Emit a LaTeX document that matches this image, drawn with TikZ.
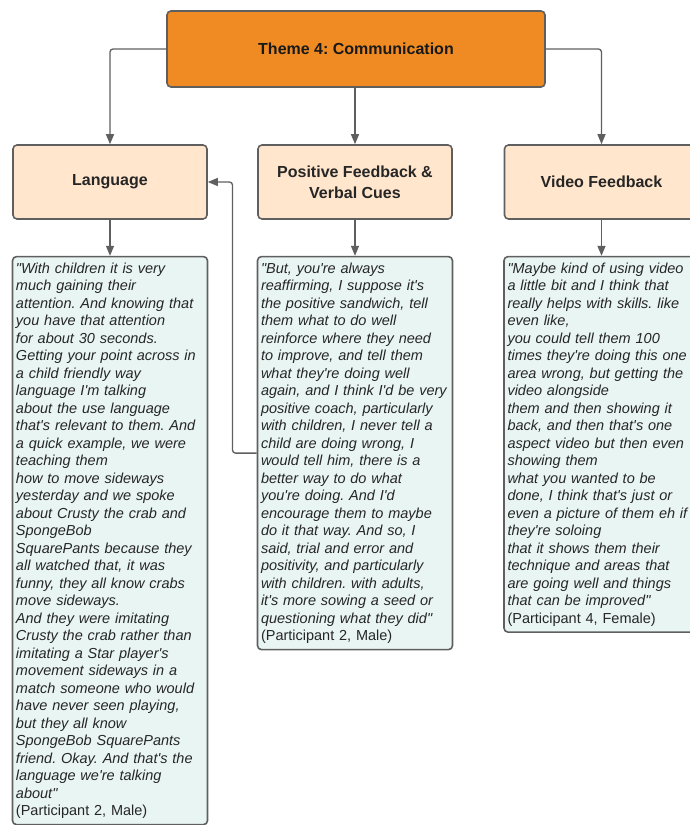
\documentclass[tikz,border=0pt]{standalone}
\usepackage{fontspec}
\setmainfont{Liberation Sans}
\newfontfamily\plainsans{Liberation Sans}
\usetikzlibrary{arrows.meta, calc, positioning}

\definecolor{themeorange}{HTML}{EF8B22}
\definecolor{headpeach}{HTML}{FFE6CC}
\definecolor{quotemint}{HTML}{E9F5F3}
\definecolor{edgegray}{HTML}{5F5F5F}

\begin{document}
\frenchspacing
\begin{tikzpicture}[x=1pt, y=-1pt,
  themebox/.style={draw=edgegray, line width=1.6pt, rounded corners=4pt, fill=themeorange,
    minimum width=378pt, minimum height=76pt, text=black!90,
    font=\fontsize{16}{20}\selectfont\bfseries},
  headbox/.style={draw=edgegray, line width=1.6pt, rounded corners=4pt, fill=headpeach,
    minimum width=194pt, minimum height=74pt, align=center, text=black!85,
    font=\fontsize{16}{21}\selectfont\bfseries},
  quotebox/.style={draw=edgegray, line width=1.6pt, rounded corners=4pt, fill=quotemint,
    text width=188pt, inner xsep=3.5pt, inner ysep=6pt, align=left, anchor=north,
    text=black!85, font=\plainsans\fontsize{14.5}{17.5}\selectfont\itshape},
  link/.style={draw=edgegray, line width=1.3pt, rounded corners=3pt,
    -{Triangle[length=10pt, width=8pt]}}
]

% Fix the page to the size of the picture
\useasboundingbox (0,0) rectangle (690,825);
\clip (0,0) rectangle (690,825);

% Theme box at the top
\node[themebox] (theme) at (356,49) {Theme 4: Communication};

% The three sub-theme boxes
\node[headbox] (lang) at (110,182) {Language};
\node[headbox] (pos) at (355,182) {Positive Feedback \&\\Verbal Cues};
\node[headbox] (video) at (601.5,182) {Video Feedback};

% Quotes below each sub-theme
\node[quotebox, below=36pt of lang] (langq) {"With children it is very\\
much gaining their\\
attention. And knowing that\\
you have that attention\\
for about 30 seconds.\\
Getting your point across in\\
a child friendly way\\
language I'm talking\\
about the use language\\
that's relevant to them. And\\
a quick example, we were\\
teaching them\\
how to move sideways\\
yesterday and we spoke\\
about Crusty the crab and\\
SpongeBob\\
SquarePants because they\\
all watched that, it was\\
funny, they all know crabs\\
move sideways.\\
And they were imitating\\
Crusty the crab rather than\\
imitating a Star player's\\
movement sideways in a\\
match someone who would\\
have never seen playing,\\
but they all know\\
SpongeBob SquarePants\\
friend. Okay. And that's the\\
language we're talking\\
about"\\
{\upshape (Participant 2, Male)}};

\node[quotebox, below=36pt of pos] (posq) {"But, you're always\\
reaffirming, I suppose it's\\
the positive sandwich, tell\\
them what to do well\\
reinforce where they need\\
to improve, and tell them\\
what they're doing well\\
again, and I think I'd be very\\
positive coach, particularly\\
with children, I never tell a\\
child are doing wrong, I\\
would tell him, there is a\\
better way to do what\\
you're doing. And I'd\\
encourage them to maybe\\
do it that way. And so, I\\
said, trial and error and\\
positivity, and particularly\\
with children. with adults,\\
it's more sowing a seed or\\
questioning what they did"\\
{\upshape (Participant 2, Male)}};

\node[quotebox, below=36pt of video] (videoq) {"Maybe kind of using video\\
a little bit and I think that\\
really helps with skills. like\\
even like,\\
you could tell them 100\\
times they're doing this one\\
area wrong, but getting the\\
video alongside\\
them and then showing it\\
back, and then that's one\\
aspect video but then even\\
showing them\\
what you wanted to be\\
done, I think that's just or\\
even a picture of them eh if\\
they're soloing\\
that it shows them their\\
technique and areas that\\
are going well and things\\
that can be improved"\\
{\upshape (Participant 4, Female)}};

% Arrows from the theme to the sub-themes
\draw[link] (theme.west) -| (lang.north);
\draw[link] (pos.north |- theme.south) -- (pos.north);
\draw[link] (theme.east) -| (video.north);

% Arrows from the sub-themes to their quotes
\draw[link] (lang) -- (langq);
\draw[link] (pos) -- (posq);
\draw[link] (video) -- (videoq);

% Link back from the feedback quote to language
\coordinate (bend) at ($(lang.east)!0.5!(pos.west)$);
\draw[link] (posq.west) -| (bend) -- (lang.east);

\end{tikzpicture}
\end{document}
